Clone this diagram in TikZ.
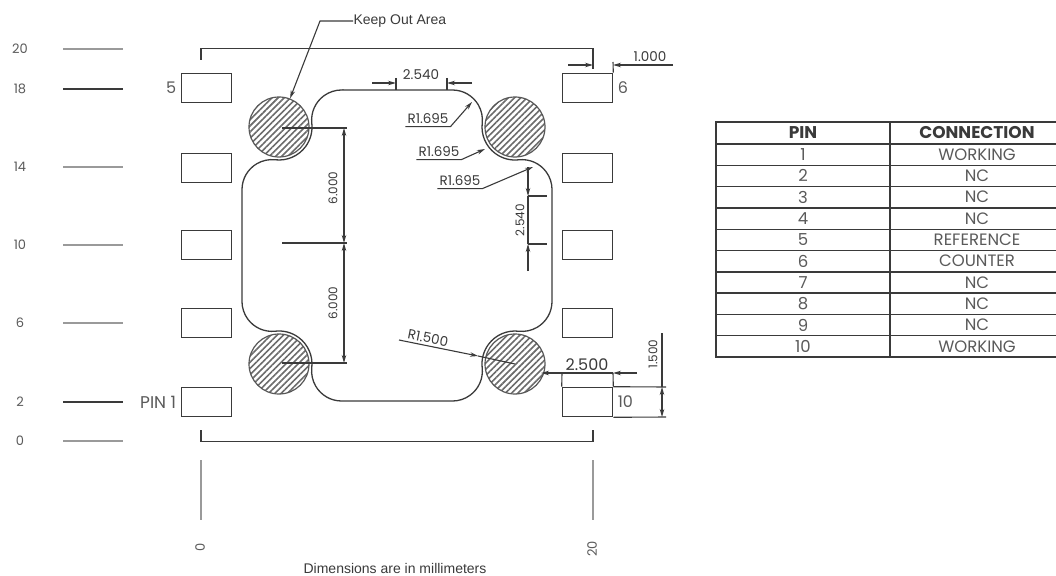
\documentclass[tikz,border=0pt]{standalone}
\usepackage{fontspec}
\setmainfont{Poppins}
\newfontfamily\notefont{Liberation Sans}
\usetikzlibrary{arrows.meta}
\usetikzlibrary{positioning}
\usetikzlibrary{patterns.meta}
\definecolor{ink}{HTML}{3A3A3A}
\definecolor{softink}{HTML}{9A9A9A}
\definecolor{greytext}{HTML}{5A5A5A}

\begin{document}
\begin{tikzpicture}[x=1pt,y=-1pt,>={Stealth[length=8pt,width=4.5pt]},line width=1.1pt,draw=ink,text=ink,
                    pad/.style={rectangle,draw,line width=1.6pt,inner sep=0pt,minimum width=50pt,minimum height=29pt},
                    keepout/.style={circle,draw=ink!85,line width=1.2pt,inner sep=0pt,minimum size=60pt,pattern={Lines[angle=45,distance=4.4pt,line width=1.6pt]},pattern color=ink!75},
                    dimtext/.style={inner sep=0pt,font=\fontsize{13.5}{14}\selectfont},
                    side text/.style={inner sep=0pt,font=\fontsize{12}{14}\selectfont},
                    radius text/.style={dimtext,minimum width=44pt,minimum height=14pt},
                    rule/.style={softink,line width=1.4pt},
                    dark rule/.style={ink,line width=1.3pt},
                    scale label/.style={inner sep=0pt,text=greytext,font=\fontsize{13}{14}\selectfont},
                    cell/.style={inner sep=0pt,text=greytext,font=\fontsize{16.5}{18}\selectfont},
                    head/.style={inner sep=0pt,font=\fontsize{17}{18}\selectfont\bfseries}]
  \useasboundingbox (0,0) rectangle (1056,575);

  % pads
  \node[pad] (pin5) at (206.5,88) {};
  \node[pad] (pin4) at (206.5,168) {};
  \node[pad] (pin3) at (206.5,245) {};
  \node[pad] (pin2) at (206.5,323) {};
  \node[pad] (pin1) at (206.5,402) {};
  \node[pad] (pin6) at (587.5,88) {};
  \node[pad] (pin7) at (587.5,168) {};
  \node[pad] (pin8) at (587.5,245) {};
  \node[pad] (pin9) at (587.5,323) {};
  \node[pad] (pin10) at (587.5,402) {};
  \node[dimtext,text=greytext,font=\fontsize{16}{18}\selectfont,left=4pt of pin5] (name5) {5};
  \node[dimtext,text=greytext,font=\fontsize{16}{18}\selectfont,right=4pt of pin6] (name6) {6};
  \node[dimtext,text=greytext,font=\fontsize{17}{18}\selectfont,left=4pt of pin1] (name1) {PIN 1};
  \node[dimtext,text=greytext,font=\fontsize{16}{18}\selectfont,right=4pt of pin10] (name10) {10};

  % keep out areas
  \node[keepout] (keepnw) at (279,127) {};
  \node[keepout] (keepne) at (515,127) {};
  \node[keepout] (keepsw) at (279,364) {};
  \node[keepout] (keepse) at (515,364) {};

  % outline
  \draw[line width=1.3pt] (341.6,90) -- (452.4,90)
    arc[start angle=-90,end angle=6.4,radius=30]
    arc[start angle=186.4,end angle=83.6,radius=33]
    arc[start angle=-96.4,end angle=0,radius=30]
    -- (552,301.4)
    arc[start angle=0,end angle=96.4,radius=30]
    arc[start angle=-83.6,end angle=-186.4,radius=33]
    arc[start angle=-6.4,end angle=90,radius=30]
    -- (341.6,401)
    arc[start angle=90,end angle=186.4,radius=30]
    arc[start angle=6.4,end angle=-96.4,radius=33]
    arc[start angle=83.6,end angle=180,radius=30]
    -- (242,189.6)
    arc[start angle=180,end angle=276.4,radius=30]
    arc[start angle=96.4,end angle=-6.4,radius=33]
    arc[start angle=173.6,end angle=270,radius=30] -- cycle;

  % scale
  \foreach \val/\ypos/\look in {20/49/rule,18/89/dark rule,14/167/rule,10/245/rule,6/323/rule,2/402/dark rule,0/441/rule} {
    \node[scale label] (val\val) at (20,\ypos) {\val};
    \coordinate (tickstart\val) at (63,\ypos);
    \coordinate (tickend\val) at (123,\ypos);
    \draw[\look] (tickstart\val) -- (tickend\val);
  }
  \draw[rule] (201,460) -- (201,520);
  \draw[rule] (593,460) -- (593,520);
  \node[scale label,rotate=90] (val0x) at (200,547) {0};
  \node[scale label,rotate=90] (val20x) at (592,549) {20};
  \node[font=\notefont\fontsize{14}{16}\selectfont,inner sep=0pt] (note) at (395,568) {Dimensions are in millimeters};

  % brackets
  \draw[line width=1.3pt] (201,60) -- (201,48.5) -- (593,48.5) -- (593,69);
  \draw[line width=1.3pt] (201,430) -- (201,441.5) -- (593,441.5) -- (593,430);

  % keep out leader
  \node[font=\notefont\fontsize{14}{16}\selectfont,inner sep=0pt,anchor=west] (keeplabel) at (353,21) {Keep Out Area};
  \coordinate (keepbend) at (320,21);
  \draw[->] (keeplabel.west) -- (keepbend) -- (keepnw);

  % dimensions on top
  \draw[->] (568,65) -- (593,65);
  \draw[->] (673,65) -- (613,65);
  \draw (613,62) -- (pin6.north east);
  \node[dimtext] (dimtop) at (650,57) {1.000};
  \draw[->] (372,83) -- (396,83);
  \draw[->] (472,83) -- (447,83);
  \draw (396,78) -- (396,90);
  \draw (447,78) -- (447,90);
  \node[dimtext] (dimpitch) at (421,75) {2.540};

  % radii
  \node[radius text] (rada) at (428,119) {R1.695};
  \node[radius text] (radb) at (439,152) {R1.695};
  \node[radius text] (radc) at (460,181) {R1.695};
  \coordinate (tipa) at (472,102);
  \coordinate (tipb) at (485,149);
  \coordinate (tipc) at (533,167);
  \draw[->] (rada.south west) -- (rada.south east) -- (tipa);
  \draw[->] (radb.south west) -- (radb.south east) -- (tipb);
  \draw[->] (radc.south west) -- (radc.south east) -- (tipc);

  % pitch on the right
  \draw[->] (528,167) -- (528,196);
  \draw[->] (528,271) -- (528,244);
  \draw (528,196) -- (528,244);
  \draw (528,196) -- (547,196);
  \draw (528,244) -- (547,244);
  \node[side text,rotate=90] (dimside) at (520,220) {2.540};

  % centre distances
  \draw (keepnw.center) ++(3,1) -- (347,128);
  \draw (282,243) -- (347,243);
  \draw (keepsw.center) ++(3,-1) -- (347,363);
  \draw[<->] (344,128) -- (344,243);
  \draw[<->] (344,243) -- (344,363);
  \node[side text,rotate=90] (dimupper) at (333,188) {6.000};
  \node[side text,rotate=90] (dimlower) at (333,303) {6.000};

  % bottom right
  \node[dimtext,rotate=-11] (radlow) at (428,338) {R1.500};
  \coordinate (radlowstart) at (399,340);
  \coordinate (radlowtip) at (478,356);
  \draw[->] (radlowstart) -- (radlowtip);
  \draw (radlowtip) -- (keepse.center);
  \draw[->] (562,373) -- (541,373);
  \draw[->] (637,373) -- (613,373);
  \draw (562,373) -- (613,373);
  \draw (562,373) -- (pin10.north west);
  \draw (613,373) -- (pin10.north east);
  \node[dimtext,font=\fontsize{16}{18}\selectfont] (dimgap) at (587,365) {2.500};
  \draw (pin10.north east) -- (666,387);
  \draw (pin10.south east) -- (666,417);
  \draw (662,333) -- (662,387);
  \draw[<->] (662,387) -- (662,417);
  \node[side text,rotate=90] (dimpad) at (653,354) {1.500};

  % table
  \draw[line width=1.4pt] (716,122) rectangle (1060,357);
  \draw[line width=1.4pt] (890,122) -- (890,357);
  \foreach \i in {0,...,9}
    \draw[line width=1.4pt] (716,{144+21.3*\i}) -- (1060,{144+21.3*\i});
  \node[head] (headpin) at (803,133) {PIN};
  \node[head] (headconn) at (977,133) {CONNECTION};
  \foreach \n/\conn [count=\i] in {1/WORKING,2/NC,3/NC,4/NC,5/REFERENCE,6/COUNTER,7/NC,8/NC,9/NC,10/WORKING} {
    \node[cell] (rowpin\n) at (803,{154.6+21.3*(\i-1)}) {\n};
    \node[cell] (rowconn\n) at (977,{154.6+21.3*(\i-1)}) {\conn};
  }
\end{tikzpicture}
\end{document}
